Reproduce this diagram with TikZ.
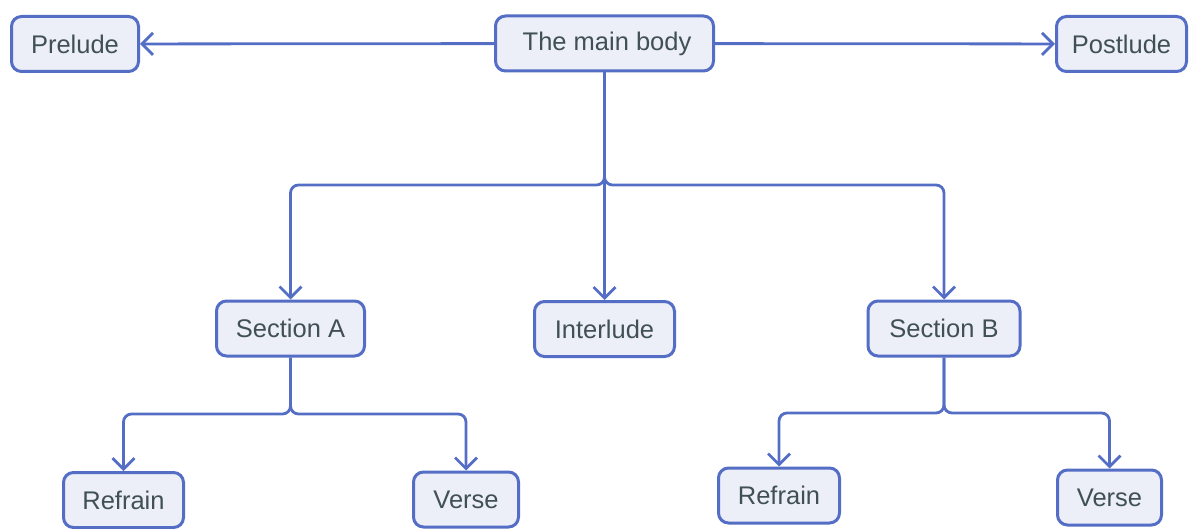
\documentclass[tikz,border=0pt]{standalone}
\usepackage{fontspec}
\setmainfont{Liberation Sans}
\usetikzlibrary{arrows.meta}
\definecolor{edgeblue}{RGB}{84,110,198}
\definecolor{boxfill}{RGB}{236,238,248}
\definecolor{txt}{RGB}{64,80,86}
\tikzset{
  box/.style={draw=edgeblue, fill=boxfill, line width=3pt, rounded corners=10pt,
    minimum height=55pt, inner sep=0pt, text=txt, font=\fontsize{25.5}{30}\selectfont},
  arr/.style={draw=edgeblue, line width=2.8pt, rounded corners=8pt,
    -{Straight Barb[length=11pt,width=22pt]}},
}
\begin{document}
\begin{tikzpicture}[x=1pt,y=-1pt]
\useasboundingbox (0,0) rectangle (1190,529);
\node[box, minimum width=127pt] (prelude) at (75,44) {Prelude};
\node[box, minimum width=218pt] (main) at (604.5,43.5) {\hspace{5pt}The main body};
\node[box, minimum width=130pt] (postlude) at (1121.5,44) {Postlude};
\node[box, minimum width=148pt] (secA) at (290.5,328.5) {Section A};
\node[box, minimum width=140pt] (inter) at (604.5,329) {Interlude};
\node[box, minimum width=152pt] (secB) at (944,328.5) {Section B};
\node[box, minimum width=120pt] (ref1) at (123.5,500) {Refrain};
\node[box, minimum width=105pt] (verse1) at (466,499.5) {Verse};
\node[box, minimum width=121pt] (ref2) at (779,495.5) {Refrain};
\node[box, minimum width=104pt] (verse2) at (1109.5,497.5) {Verse};
\coordinate (j1) at (604.5,185);
\coordinate (j2) at (290.5,414);
\coordinate (j3) at (944,413);
\draw[arr] (main) -- (prelude);
\draw[arr] (main) -- (postlude);
\draw[arr] (main) -- (j1) -| (secA);
\draw[arr] (main) -- (inter);
\draw[arr] (main) -- (j1) -| (secB);
\draw[arr] (secA) -- (j2) -| (ref1);
\draw[arr] (secA) -- (j2) -| (verse1);
\draw[arr] (secB) -- (j3) -| (ref2);
\draw[arr] (secB) -- (j3) -| (verse2);
\end{tikzpicture}
\end{document}
